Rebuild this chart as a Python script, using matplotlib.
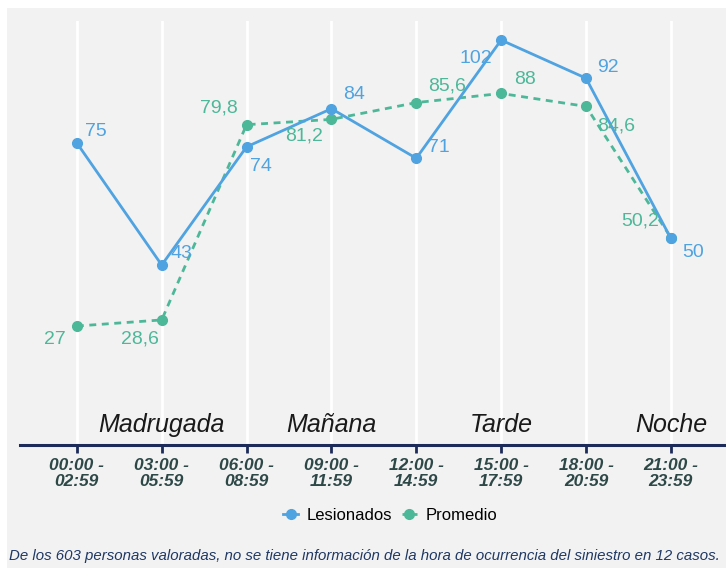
import matplotlib.pyplot as plt
from matplotlib.patches import Rectangle

franjas = ['00:00 -\n02:59', '03:00 -\n05:59', '06:00 -\n08:59', '09:00 -\n11:59',
           '12:00 -\n14:59', '15:00 -\n17:59', '18:00 -\n20:59', '21:00 -\n23:59']
lesionados = [75, 43, 74, 84, 71, 102, 92, 50]
promedio = [27, 28.6, 79.8, 81.2, 85.6, 88, 84.6, 50.2]
momentos = ['Madrugada', 'Mañana', 'Tarde', 'Noche']
momento_pos = [1, 3, 5, 7]

# label offsets in points (dx, dy)
off_les = [(14, 8), (14, 8), (10, -14), (16, 10), (16, 8), (-18, -13), (16, 8), (16, -10)]
off_pro = [(-16, -10), (-16, -14), (-20, 12), (-20, -12), (22, 12), (17, 10), (22, -14), (-22, 12)]

BLUE = '#4fa3e0'
GREEN = '#4db898'
BG = '#f2f2f2'
NAVY = '#1c2b5a'

plt.rcParams['font.family'] = ['Liberation Sans', 'DejaVu Sans']

fig = plt.figure(figsize=(7.26, 5.68), dpi=100, facecolor='white')
fig.patches.append(Rectangle((7 / 726, 0), 1, (568 - 8) / 568, transform=fig.transFigure,
                             facecolor=BG, edgecolor='none', zorder=-1))
ax = fig.add_axes([20 / 726, 123 / 568, 706 / 726, 424 / 568])
ax.set_facecolor(BG)

x = list(range(len(franjas)))
ax.plot(x, lesionados, color=BLUE, lw=2, marker='o', ms=7, label='Lesionados', zorder=3)
ax.plot(x, promedio, color=GREEN, lw=2, ls=(0, (2.5, 2)), marker='o', ms=7,
        label='Promedio', zorder=2)

for i, v in enumerate(lesionados):
    ax.annotate(str(v), (i, v), xytext=off_les[i], textcoords='offset points',
                color=BLUE, fontsize=14, ha='center', va='center', zorder=4)
for i, v in enumerate(promedio):
    txt = ('%g' % v).replace('.', ',')
    ax.annotate(txt, (i, v), xytext=off_pro[i], textcoords='offset points',
                color=GREEN, fontsize=14, ha='center', va='center', zorder=4)

for p, m in zip(momento_pos, momentos):
    ax.text(p, 1, m, fontsize=18, style='italic', color='#1a1a1a',
            ha='center', va='center')

ax.set_xlim(-0.67, 7.65)
ax.set_ylim(-4.2, 107)
ax.set_xticks(x)
ax.set_xticklabels(franjas, fontsize=12.5, fontweight='bold', style='italic',
                   color='#2e4848', linespacing=1.15)
ax.set_yticks([])
ax.grid(axis='x', color='white', lw=2)
ax.set_axisbelow(True)
for s in ['top', 'right', 'left']:
    ax.spines[s].set_visible(False)
ax.spines['bottom'].set_color(NAVY)
ax.spines['bottom'].set_linewidth(2.2)
ax.tick_params(axis='x', colors=NAVY, length=6, width=2, pad=3, labelcolor='#2e4848')

fig.legend(loc='center', bbox_to_anchor=(390 / 726, 1 - 515 / 568), ncol=2,
           frameon=False, fontsize=12, handlelength=0.9, handletextpad=0.5,
           columnspacing=0.6, markerscale=1)

fig.text(364 / 726, 1 - 556 / 568,
         'De los 603 personas valoradas, no se tiene información de la hora de '
         'ocurrencia del siniestro en 12 casos.',
         fontsize=10.8, style='italic', color='#1f3864', ha='center', va='center')

fig.savefig('out.png', dpi=100, facecolor='white')
